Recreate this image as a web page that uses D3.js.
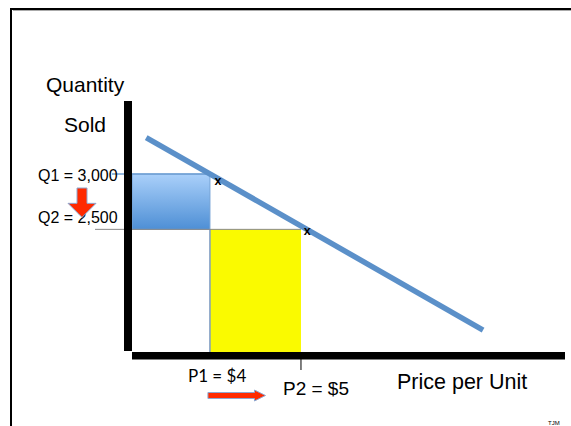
<!DOCTYPE html>
<html>
<head>
<meta charset="utf-8">
<script src="https://cdn.jsdelivr.net/npm/d3@7"></script>
<style>
  body { margin: 0; background: #fff; }
  svg { display: block; }
</style>
</head>
<body>
<div id="chart"></div>
<script>
// values
const prices = [4, 5];
const priceLabels = ["P1 = $4", "P2 = $5"];
const quantities = [3000, 2500];
const quantityLabels = ["Q1 = 3,000", "Q2 = 2,500"];
const demandPrice = [3.3, 7.0];
const demandQty = [3330, 1590];
const markerPrice = [4.05, 5.03];
const markerQty = [2935, 2485];

const width = 571, height = 426;
const sans = "'Liberation Sans', Arial, sans-serif";

const svg = d3.select("#chart")
    .append("svg")
    .attr("width", width)
    .attr("height", height);

// schematic scales (price across, quantity up)
const x = d3.scaleLinear().domain([3.1, 7.9]).range([128, 565]);
const y = d3.scaleLinear().domain([1360, 3660]).range([355.5, 101]);

// slide frame
svg.append("path")
    .attr("d", `M11,${height + 5}V9H${width + 5}`)
    .attr("fill", "none")
    .attr("stroke", "#000")
    .attr("stroke-width", 2);
svg.append("line")
    .attr("x1", 13).attr("x2", width).attr("y1", 10.5).attr("y2", 10.5)
    .attr("stroke", "#aaa").attr("stroke-width", 1);

// gradient for the revenue box at P1
const grad = svg.append("defs").append("linearGradient")
    .attr("id", "blueGrad")
    .attr("x1", 0).attr("y1", 0).attr("x2", 0).attr("y2", 1);
grad.append("stop").attr("offset", "0%").attr("stop-color", "#aad0fa");
grad.append("stop").attr("offset", "100%").attr("stop-color", "#4e8fd5");

const yBase = y(1360) - 3.5;   // top of the x axis bar

// blue rect: Q1 x P1
svg.append("rect")
    .attr("x", x(3.1) + 4)
    .attr("y", y(quantities[0]))
    .attr("width", x(prices[0]) - x(3.1) - 4)
    .attr("height", y(quantities[1]) - y(quantities[0]))
    .attr("fill", "url(#blueGrad)")
    .attr("stroke", "#74a2d6")
    .attr("stroke-width", 1);

// yellow rect: Q2 x P2
svg.append("rect")
    .attr("x", x(prices[0]))
    .attr("y", y(quantities[1]))
    .attr("width", x(prices[1]) - x(prices[0]))
    .attr("height", yBase - y(quantities[1]))
    .attr("fill", "#fafa00");

svg.append("line")
    .attr("x1", x(prices[0])).attr("x2", x(prices[0]))
    .attr("y1", y(quantities[1])).attr("y2", yBase)
    .attr("stroke", "#7d9ac4").attr("stroke-width", 1.5);

// guide lines
svg.append("line")
    .attr("x1", 112).attr("x2", x(prices[0]))
    .attr("y1", y(quantities[0])).attr("y2", y(quantities[0]))
    .attr("stroke", "#6f9fd3").attr("stroke-width", 1.5);
svg.append("line")
    .attr("x1", 95).attr("x2", x(prices[1]))
    .attr("y1", y(quantities[1])).attr("y2", y(quantities[1]))
    .attr("stroke", "#888").attr("stroke-width", 1);

// demand line
const line = d3.line()
    .x(d => x(d[0]))
    .y(d => y(d[1]));
svg.append("path")
    .datum(d3.zip(demandPrice, demandQty))
    .attr("d", line)
    .attr("fill", "none")
    .attr("stroke", "#5b90c9")
    .attr("stroke-width", 5.5);

// axes
svg.append("rect")
    .attr("x", x(3.1) - 4).attr("y", y(3660))
    .attr("width", 8).attr("height", yBase - y(3660) - 1)
    .attr("fill", "#000");
svg.append("rect")
    .attr("x", x(3.1) + 4).attr("y", yBase)
    .attr("width", x(7.9) - x(3.1) - 4).attr("height", 7.5)
    .attr("fill", "#000");

// tick under P2
svg.append("line")
    .attr("x1", x(prices[1])).attr("x2", x(prices[1]))
    .attr("y1", yBase).attr("y2", yBase + 18)
    .attr("stroke", "#000").attr("stroke-width", 1);

// x markers
svg.selectAll(".marker")
    .data(d3.zip(markerPrice, markerQty))
    .join("text")
    .attr("class", "marker")
    .attr("x", d => x(d[0]))
    .attr("y", d => y(d[1]) + 4)
    .attr("font-family", sans)
    .attr("font-size", 12.5)
    .attr("font-weight", "bold")
    .text("x");

// axis titles
svg.append("text")
    .attr("x", 46).attr("y", 92)
    .attr("font-family", sans).attr("font-size", 21)
    .text("Quantity");
svg.append("text")
    .attr("x", 64).attr("y", 132)
    .attr("font-family", sans).attr("font-size", 21)
    .text("Sold");
svg.append("text")
    .attr("x", 397).attr("y", 389)
    .attr("font-family", sans).attr("font-size", 21.5)
    .text("Price per Unit");

// quantity labels
svg.selectAll(".qlabel")
    .data(quantities)
    .join("text")
    .attr("class", "qlabel")
    .attr("x", 38)
    .attr("y", (d, i) => y(d) + (i === 0 ? 7 : -6))
    .attr("font-family", sans)
    .attr("font-size", 16)
    .text((d, i) => quantityLabels[i]);

// price labels
svg.append("text")
    .attr("x", x(prices[0]) - 22).attr("y", 382)
    .attr("font-family", "Lato, 'Open Sans', sans-serif").attr("font-size", 17)
    .text(priceLabels[0]);
svg.append("text")
    .attr("x", x(prices[1]) - 18).attr("y", 395)
    .attr("font-family", sans).attr("font-size", 19)
    .text(priceLabels[1]);

// red arrows (quantity falls, price rises)
const red = "#ff2a00";
const ax = 82, aTop = y(quantities[0]) + 14, aTip = y(quantities[1]) - 12;
svg.append("path")
    .attr("d", `M${ax - 5},${aTop}H${ax + 5}V${aTip - 14}H${ax + 14}L${ax},${aTip}L${ax - 14},${aTip - 14}H${ax - 5}Z`)
    .attr("fill", red)
    .attr("stroke", "#8ea7d0")
    .attr("stroke-width", 1);

const rx0 = x(prices[0]) - 2, rx1 = x(4.61), ry = 395.5;
svg.append("path")
    .attr("d", `M${rx0},${ry - 3}H${rx1 - 11}V${ry - 5.5}L${rx1},${ry}L${rx1 - 11},${ry + 5.5}V${ry + 3}H${rx0}Z`)
    .attr("fill", red)
    .attr("stroke", "#8ea7d0")
    .attr("stroke-width", 1);

// initials
svg.append("text")
    .attr("x", 548).attr("y", 425)
    .attr("font-family", sans).attr("font-size", 6)
    .text("TJM");
</script>
</body>
</html>
